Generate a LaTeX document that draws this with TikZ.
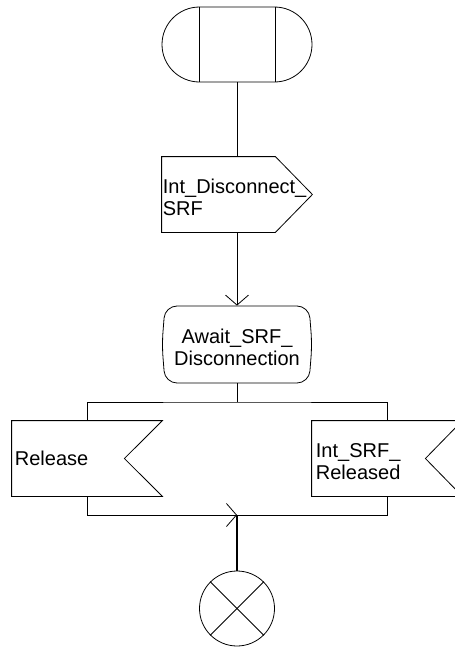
\documentclass[tikz,border=0pt]{standalone}
\usepackage{fontspec}
\setmainfont{Liberation Sans}
\usetikzlibrary{arrows.meta}
\begin{document}
\begin{tikzpicture}[x=1pt,y=-1pt, line width=0.8pt,
  lbl/.style={font=\fontsize{20}{22}\selectfont, align=left, inner sep=0pt},
  shapebox/.style={minimum width=150pt, minimum height=75pt, inner sep=0pt},
  tip/.style={-{Straight Barb[length=10pt,width=23pt,line width=0.8pt]}}]
\useasboundingbox (0,0) rectangle (455,648);
\clip (0,0) rectangle (455,648);
% start
\node[draw, shapebox, rounded corners=37.5pt] (start) at (237,44.5) {};
\draw ([xshift=37.5pt]start.north west) -- ([xshift=37.5pt]start.south west);
\draw ([xshift=-37.5pt]start.north east) -- ([xshift=-37.5pt]start.south east);
% output
\node[shapebox] (out) at (237,194.5) {};
\draw (out.north west) -- ([xshift=-37pt]out.north east) -- (out.east) -- ([xshift=-37pt]out.south east) -- (out.south west) -- cycle;
\node[lbl, anchor=west] (outtxt) at (162.5,197) {Int\_Disconnect\_\\SRF};
% state
\node[shapebox, minimum height=77pt] (state) at (237,344.5) {};
\draw[rounded corners=12pt] (165,306) -- (309,306) -- (312,344.5) -- (309,383) -- (165,383) -- (162,344.5) -- cycle;
\node[lbl, align=center] (statetxt) at (237,347) {Await\_SRF\_\\Disconnection};
% inputs
\node[shapebox] (rel) at (87,458.5) {};
\draw (rel.north west) -- (rel.north east) -- ([xshift=-38pt]rel.east) -- (rel.south east) -- (rel.south west) -- cycle;
\node[lbl, anchor=west] (reltxt) at (14.5,458.5) {Release};
\node[shapebox] (isr) at (387,458.5) {};
\draw (isr.north west) -- (isr.north east) -- ([xshift=-37pt]isr.east) -- (isr.south east) -- (isr.south west) -- cycle;
\node[lbl, anchor=west] (isrtxt) at (315.5,462) {Int\_SRF\_\\Released};
% stop
\node[circle, draw, minimum size=75pt, inner sep=0pt] (stop) at (237,608.5) {};
\draw (stop.north east) -- (stop.south west);
\draw (stop.north west) -- (stop.south east);
% connectors
\draw (start.south) -- (out.north);
\draw[tip] (out.south) -- (state.north);
\coordinate (split) at (237,402);
\draw (state.south) -- (split);
\draw (rel.north) |- (split) -| (isr.north);
\coordinate (merge) at (237,515);
\draw[tip] (rel.south) |- (merge);
\draw (merge) -| (isr.south);
\draw[line width=1.2pt] (merge) -- (stop.north);
\end{tikzpicture}
\end{document}
